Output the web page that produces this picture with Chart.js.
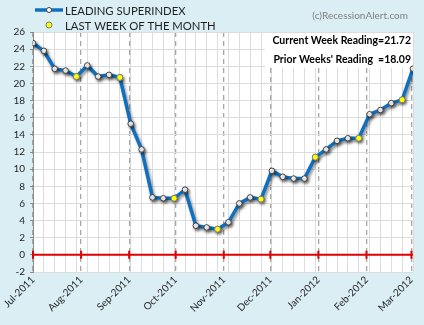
<!DOCTYPE html>
<html>
<head>
<meta charset="utf-8">
<script src="https://cdn.jsdelivr.net/npm/chart.js@4/dist/chart.umd.min.js"></script>
<style>
  html, body { margin: 0; padding: 0; background: #dbeef4; }
  #wrap { width: 424px; height: 325px; }
</style>
</head>
<body>
<div id="wrap"><canvas id="chart" width="424" height="325"></canvas></div>
<script>
// weekly readings, every Friday from 1 Jul 2011
const weekDates = [
    '2011-07-01', '2011-07-08', '2011-07-15', '2011-07-22', '2011-07-29',
    '2011-08-05', '2011-08-12', '2011-08-19', '2011-08-26',
    '2011-09-02', '2011-09-09', '2011-09-16', '2011-09-23', '2011-09-30',
    '2011-10-07', '2011-10-14', '2011-10-21', '2011-10-28',
    '2011-11-04', '2011-11-11', '2011-11-18', '2011-11-25',
    '2011-12-02', '2011-12-09', '2011-12-16', '2011-12-23', '2011-12-30',
    '2012-01-06', '2012-01-13', '2012-01-20', '2012-01-27',
    '2012-02-03', '2012-02-10', '2012-02-17', '2012-02-24',
    '2012-03-02'
];
const superIndex = [
    24.7, 23.8, 21.7, 21.5, 20.8,
    22.1, 20.8, 21.0, 20.7,
    15.3, 12.3, 6.7, 6.6, 6.6,
    7.6, 3.4, 3.2, 3.0,
    3.8, 6.0, 6.7, 6.5,
    9.8, 9.1, 8.9, 8.9, 11.4,
    12.3, 13.3, 13.6, 13.6,
    16.4, 16.9, 17.7, 18.09,
    21.72
];
const monthDates = ['2011-07-01', '2011-08-01', '2011-09-01', '2011-10-01', '2011-11-01',
    '2011-12-01', '2012-01-01', '2012-02-01', '2012-03-01'];
const monthLabels = ['Jul-2011', 'Aug-2011', 'Sep-2011', 'Oct-2011', 'Nov-2011',
    'Dec-2011', 'Jan-2012', 'Feb-2012', 'Mar-2012'];
const yTicks = { min: -2, max: 26, step: 2 };

const FONT = 'Lato, "Open Sans", sans-serif';
const origin = Date.UTC(2011, 6, 1);
function dayNo(s) {
    const p = s.split('-').map(Number);
    return (Date.UTC(p[0], p[1] - 1, p[2]) - origin) / 86400000;
}
const weekDays = weekDates.map(dayNo);
const monthDays = monthDates.map(dayNo);

const linePoints = weekDays.map((d, i) => ({ x: d, y: superIndex[i] }));
// last reading of each month = next reading falls in another month
const monthEndPoints = linePoints.filter((p, i) =>
    i < weekDates.length - 1 && weekDates[i].slice(0, 7) !== weekDates[i + 1].slice(0, 7));

const current = superIndex[superIndex.length - 1];
const prior = monthEndPoints[monthEndPoints.length - 1].y;

// white plot area behind the grid
const plotBg = {
    id: 'plotBg',
    beforeDraw(chart) {
        const { ctx, chartArea } = chart;
        ctx.save();
        ctx.fillStyle = '#ffffff';
        ctx.fillRect(chartArea.left, chartArea.top, chartArea.right - chartArea.left, chartArea.bottom - chartArea.top);
        ctx.restore();
    }
};

// red zero line with month tick marks
const zeroLine = {
    id: 'zeroLine',
    beforeDatasetsDraw(chart) {
        const { ctx, chartArea, scales } = chart;
        const y0 = scales.y.getPixelForValue(0);
        ctx.save();
        ctx.strokeStyle = '#e00000';
        ctx.lineWidth = 2;
        ctx.beginPath();
        ctx.moveTo(chartArea.left, y0);
        ctx.lineTo(chartArea.right, y0);
        monthDays.forEach(d => {
            const x = scales.x.getPixelForValue(d);
            ctx.moveTo(x, y0 - 4);
            ctx.lineTo(x, y0 + 4);
        });
        ctx.stroke();
        // white box behind the readings
        ctx.fillStyle = '#ffffff';
        ctx.fillRect(265, chartArea.top + 1, chartArea.right - 265, 35);
        ctx.restore();
    }
};

// soft drop shadow under the index line
const lineShadow = {
    id: 'lineShadow',
    beforeDatasetDraw(chart, args) {
        if (args.index !== 1) return;
        const ctx = chart.ctx;
        ctx.save();
        ctx.shadowColor = 'rgba(0,0,0,0.45)';
        ctx.shadowBlur = 3;
        ctx.shadowOffsetX = 1.5;
        ctx.shadowOffsetY = 2;
    },
    afterDatasetDraw(chart, args) {
        if (args.index !== 1) return;
        chart.ctx.restore();
    }
};

// legend, readings and credit line
const extras = {
    id: 'extras',
    afterDraw(chart) {
        const { ctx, chartArea } = chart;
        const ds = chart.data.datasets;
        ctx.save();
        // legend entry 1: line with marker
        ctx.strokeStyle = ds[1].borderColor;
        ctx.lineWidth = 3.5;
        ctx.beginPath();
        ctx.moveTo(35, 10);
        ctx.lineTo(63, 10);
        ctx.stroke();
        ctx.beginPath();
        ctx.arc(49, 10, 2.5, 0, Math.PI * 2);
        ctx.fillStyle = '#ffffff';
        ctx.fill();
        ctx.lineWidth = 1;
        ctx.strokeStyle = '#404040';
        ctx.stroke();
        // legend entry 2: yellow marker
        ctx.beginPath();
        ctx.arc(49, 25, 3, 0, Math.PI * 2);
        ctx.fillStyle = ds[0].pointBackgroundColor;
        ctx.fill();
        ctx.strokeStyle = '#7f7f7f';
        ctx.stroke();

        ctx.fillStyle = '#1f1f1f';
        ctx.font = '11.3px ' + FONT;
        ctx.textBaseline = 'middle';
        ctx.fillText(ds[1].label, 65, 11);
        ctx.fillText(ds[0].label, 65, 26);

        ctx.fillStyle = '#7f7f7f';
        ctx.font = '10px ' + FONT;
        ctx.textAlign = 'right';
        ctx.fillText('(c)RecessionAlert.com', 408, 16);

        ctx.fillStyle = '#000000';
        ctx.font = 'bold 10.5px ' + FONT;
        ctx.fillText('Current Week Reading=' + current.toFixed(2), chartArea.right - 2, 41);
        ctx.fillText("Prior Weeks' Reading  =" + prior.toFixed(2), chartArea.right - 2, 60);
        ctx.restore();
    }
};

const ctx = document.getElementById('chart').getContext('2d');
new Chart(ctx, {
    type: 'line',
    data: {
        datasets: [{
            label: 'LAST WEEK OF THE MONTH',
            data: monthEndPoints,
            showLine: false,
            pointRadius: 3,
            pointBackgroundColor: '#ffff00',
            pointBorderColor: '#7f7f7f',
            pointBorderWidth: 1,
            order: 0
        }, {
            label: 'LEADING SUPERINDEX',
            data: linePoints,
            borderColor: '#0f70c0',
            borderWidth: 3.5,
            tension: 0,
            pointRadius: 2.8,
            pointBackgroundColor: '#ffffff',
            pointBorderColor: '#404040',
            pointBorderWidth: 1,
            order: 1
        }]
    },
    options: {
        responsive: false,
        animation: false,
        events: [],
        layout: { padding: { top: 32, right: 11, left: 0, bottom: 0 } },
        plugins: { legend: { display: false }, tooltip: { enabled: false } },
        scales: {
            wk: {
                type: 'linear',
                position: 'bottom',
                min: weekDays[0],
                max: weekDays[weekDays.length - 1],
                afterBuildTicks: s => { s.ticks = weekDays.map(v => ({ value: v })); },
                afterFit: s => { s.height = 0; },
                ticks: { display: false },
                grid: { color: '#dcdcdc', lineWidth: 1, drawTicks: false },
                border: { display: false }
            },
            x: {
                type: 'linear',
                position: 'bottom',
                min: weekDays[0],
                max: weekDays[weekDays.length - 1],
                afterBuildTicks: s => { s.ticks = monthDays.map(v => ({ value: v })); },
                afterFit: s => { s.height = 53; },
                ticks: {
                    autoSkip: false,
                    maxRotation: 45,
                    minRotation: 45,
                    padding: 2,
                    color: '#1f1f1f',
                    font: { family: FONT, size: 10 },
                    callback: (v, i) => monthLabels[i]
                },
                grid: { color: '#a6a6a6', lineWidth: 1.3, drawTicks: false },
                border: { display: false, dash: [5, 4] }
            },
            y: {
                min: yTicks.min,
                max: yTicks.max,
                afterFit: s => { s.width = 33; },
                ticks: {
                    stepSize: yTicks.step,
                    padding: 5,
                    color: '#1f1f1f',
                    font: { family: FONT, size: 10 }
                },
                grid: { color: '#dcdcdc', lineWidth: 1, tickLength: 3, tickColor: '#8c8c8c' },
                border: { color: '#8c8c8c', width: 1 }
            }
        }
    },
    plugins: [plotBg, zeroLine, lineShadow, extras]
});
</script>
</body>
</html>
